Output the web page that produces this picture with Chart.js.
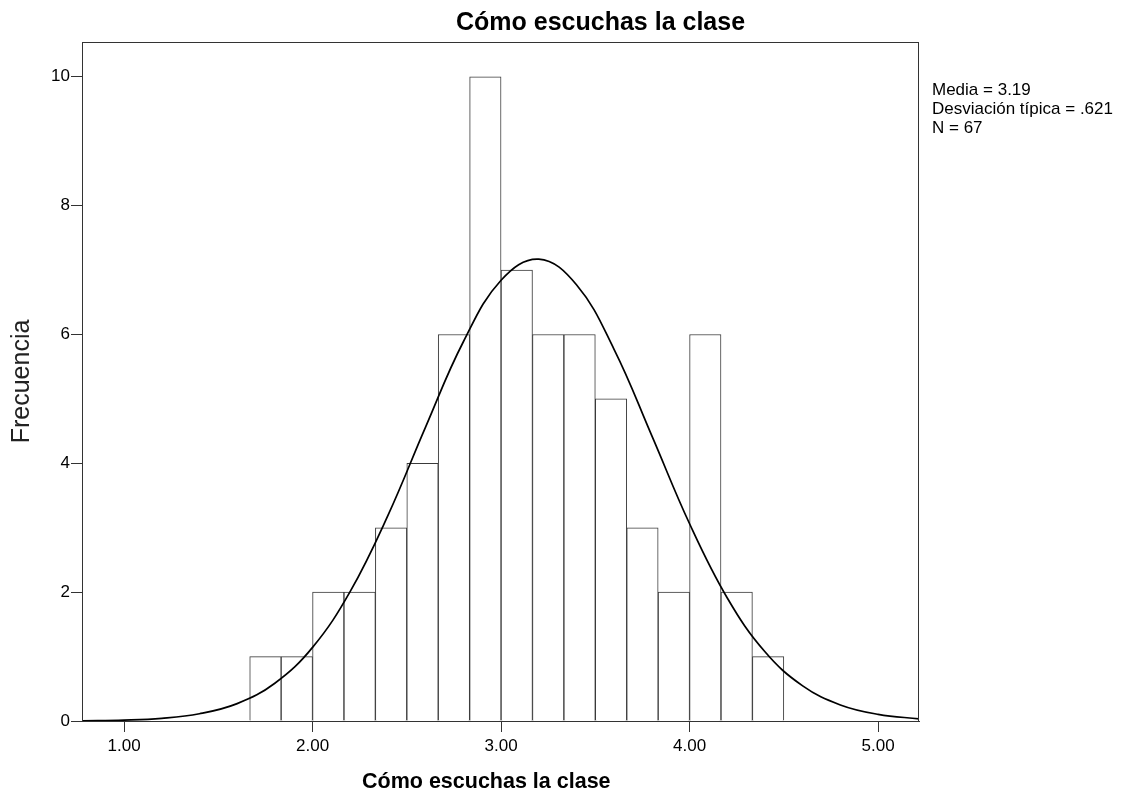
<!DOCTYPE html>
<html>
<head>
<meta charset="utf-8">
<script src="https://cdn.jsdelivr.net/npm/chart.js@4.4.0/dist/chart.umd.min.js"></script>
<style>
html,body{margin:0;padding:0;background:#fff;overflow:hidden;}
#wrap{width:1127px;height:798px;position:relative;}
</style>
</head>
<body>
<div id="wrap"><canvas id="chart" width="1127" height="798"></canvas></div>
<script>
// histogram bins (lower edges + last upper edge) and counts
let binEdges=[1.6667,1.8333,2.0,2.1667,2.3333,2.5,2.6667,2.8333,3.0,3.1667,3.3333,3.5,3.6667,3.8333,4.0,4.1667,4.3333,4.5];
let counts=[1,1,2,2,3,4,6,10,7,6,6,5,3,2,6,2,1];

// normal curve
let curveX=[0.78,1.0,1.2,1.4,1.6,1.8,2.0,2.2,2.4,2.6,2.8,3.0,3.2,3.4,3.6,3.8,4.0,4.2,4.4,4.6,4.8,5.0,5.22];
let curveY=[0.003,0.014,0.042,0.113,0.27,0.586,1.143,2.012,3.192,4.566,5.887,6.842,7.17,6.771,5.766,4.426,3.062,1.91,1.074,0.545,0.249,0.103,0.033];

let xTicks=[1,2,3,4,5];
let yTicks=[0,2,4,6,8,10];

let titleText="Cómo escuchas la clase";
let xTitle="Cómo escuchas la clase";
let statLines=["Media = 3.19","Desviación típica = .621","N = 67"];

let barData=counts.map((c,i)=>({x:(binEdges[i]+binEdges[i+1])/2,y:c}));
let lineData=curveX.map((x,i)=>({x:x,y:curveY[i]}));

let FONT="'Liberation Sans', Arial, sans-serif";

let extras={
id:"extras",
afterDraw(chart){
let ctx=chart.ctx;
let a=chart.chartArea;
ctx.save();
ctx.strokeStyle="#333";
ctx.lineWidth=1;
ctx.strokeRect(a.left+0.5,a.top+0.5,a.right-a.left-1,a.bottom-a.top);
ctx.fillStyle="#000";
ctx.textAlign="left";
ctx.textBaseline="alphabetic";
ctx.font="bold 25px "+FONT;
ctx.fillText(titleText,456,30);
ctx.font="bold 21.5px "+FONT;
ctx.fillText(xTitle,362,788);
ctx.font="17px "+FONT;
statLines.forEach((s,i)=>ctx.fillText(s,932,95+i*19));
ctx.restore();
}
};

new Chart(document.getElementById("chart"),{
data:{
datasets:[
{
type:"line",
data:lineData,
borderColor:"#000",
borderWidth:1.7,
pointRadius:0,
tension:0.4,
fill:false,
order:0
},
{
type:"bar",
data:barData,
backgroundColor:"#fff",
borderColor:"#3a3a3a",
borderWidth:1,
barPercentage:1,
categoryPercentage:1,
order:1
}
]
},
options:{
responsive:false,
animation:false,
devicePixelRatio:1,
layout:{padding:{left:0,right:208,top:42,bottom:0}},
plugins:{legend:{display:false},tooltip:{enabled:false},title:{display:false}},
scales:{
x:{
type:"linear",
offset:false,
min:0.777,
max:5.217,
afterBuildTicks(s){s.ticks=xTicks.map(v=>({value:v}));},
afterFit(s){s.height=77;},
ticks:{color:"#000",font:{family:FONT,size:17},padding:4,callback:v=>v.toFixed(2)},
grid:{offset:false,drawOnChartArea:false,drawTicks:true,tickLength:11,color:"#333"},
border:{display:true,color:"#333"}
},
y:{
min:0,
max:10.54,
afterBuildTicks(s){s.ticks=yTicks.map(v=>({value:v}));},
afterFit(s){s.width=82;},
ticks:{color:"#000",font:{family:FONT,size:17},padding:1},
grid:{drawOnChartArea:false,drawTicks:true,tickLength:11,color:"#333"},
border:{display:true,color:"#333"},
title:{display:true,text:"Frecuencia",color:"#222",font:{family:FONT,size:25},padding:{top:7,bottom:0}}
}
}
},
plugins:[extras]
});
</script>
</body>
</html>
